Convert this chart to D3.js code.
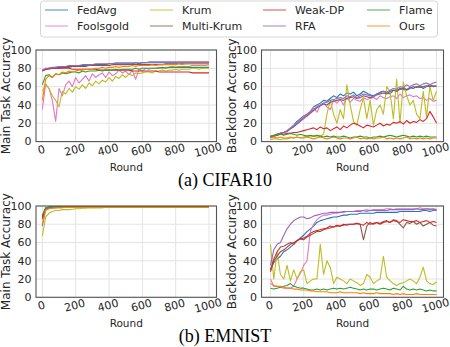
<!DOCTYPE html>
<html>
<head>
<meta charset="utf-8">
<script src="https://cdn.jsdelivr.net/npm/d3@7"></script>
<style>
  body { margin: 0; background: #fff; }
  svg { display: block; }
  .tick-label { font-family: "DejaVu Sans", sans-serif; font-size: 11px; fill: #262626; }
  .axis-label { font-family: "DejaVu Sans", sans-serif; font-size: 10.5px; fill: #262626; }
  .y-label { font-family: "DejaVu Sans", sans-serif; font-size: 12px; fill: #262626; }
  .caption { font-family: "Liberation Serif", "Times New Roman", serif; font-size: 18px; fill: #000; }
  .legend-text { font-family: "DejaVu Sans", sans-serif; font-size: 11px; fill: #262626; }
</style>
</head>
<body>
<svg id="chart" width="450" height="347"></svg>
<script>
// method names and colours, in legend order
const methods = ["FedAvg", "Foolsgold", "Krum", "Multi-Krum", "Weak-DP", "RFA", "Flame", "Ours"];
const colors = ["#1f77b4", "#e377c2", "#bcbd22", "#8c564b", "#d62728", "#9467bd", "#2ca02c", "#ff7f0e"];

// rounds sampled every 20
const rounds = d3.range(0, 1001, 20);
const yTicks = [0, 20, 40, 60, 80, 100];
const xTicks = [0, 200, 400, 600, 800, 1000];

// CIFAR10 main task accuracy
const cifarMain = {
  "FedAvg":     [78,79,80,80,81,81,82,82,82,82,83,83,83,83,84,84,84,84,84,84,85,85,85,85,85,85,85,85,86,85,86,86,86,86,86,86,86,86,86,86,86,86,86,86,86,86,86,86,86,86,86],
  "Foolsgold":  [35,63,58,45,22,58,50,62,66,60,70,64,68,72,66,74,70,73,75,70,76,72,74,78,75,77,73,78,68,79,77,80,79,80,80,81,80,81,81,82,81,82,82,82,82,83,83,83,83,83,84],
  "Krum":       [55,62,58,50,45,38,55,52,58,54,60,57,62,58,64,61,66,63,67,65,70,66,71,69,73,70,74,72,75,74,75,76,76,75,77,77,78,77,78,78,79,78,79,79,79,80,80,79,80,80,80],
  "Multi-Krum": [77,79,79,80,80,80,81,81,81,82,82,82,82,82,83,83,83,83,83,83,83,84,84,84,84,84,84,84,84,84,84,84,84,84,84,84,84,85,85,85,85,85,85,85,85,85,85,85,85,85,85],
  "Weak-DP":    [77,79,80,80,80,80,80,80,80,79,79,79,79,79,79,79,79,78,78,78,78,78,78,78,78,78,78,77,77,77,77,77,77,77,77,76,76,76,76,76,76,76,76,76,76,75,75,75,75,75,75],
  "RFA":        [78,80,80,81,81,82,82,82,83,83,83,83,84,84,84,84,85,85,85,85,85,85,86,86,86,86,86,86,86,86,86,86,87,87,87,87,87,87,87,87,87,87,87,87,87,87,87,87,87,87,87],
  "Flame":      [62,72,73,70,74,73,75,74,75,76,76,75,77,76,77,77,77,78,77,78,78,78,79,78,79,79,79,79,80,79,80,80,80,80,80,80,81,80,81,81,81,81,81,81,81,81,81,81,81,81,81],
  "Ours":       [45,68,72,70,74,73,76,75,77,76,77,78,78,79,79,79,80,80,81,80,81,81,82,81,82,82,82,83,82,83,83,83,83,84,83,84,84,84,84,84,84,85,84,85,85,85,85,85,85,85,85]
};

// CIFAR10 backdoor accuracy
const cifarBackdoor = {
  "FedAvg":     [5,6,8,9,10,12,15,18,22,25,28,30,33,38,40,42,45,44,47,50,48,52,50,53,52,54,50,52,55,53,51,50,52,54,55,53,52,56,55,58,57,56,58,60,59,61,58,60,62,60,61],
  "Foolsgold":  [6,7,8,9,10,12,15,17,20,24,27,30,33,37,32,40,42,38,35,45,42,46,40,48,43,47,45,44,48,46,47,48,46,50,48,47,49,50,47,52,48,50,51,49,50,47,48,45,47,44,45],
  "Krum":       [2,3,3,2,3,3,4,4,5,4,5,6,5,6,5,6,8,30,45,30,20,35,25,62,40,22,18,35,48,25,45,18,35,40,30,60,55,25,68,20,65,50,40,45,30,25,55,27,60,45,55],
  "Multi-Krum": [5,6,8,9,10,11,14,16,19,22,25,28,31,34,37,39,41,40,43,44,45,46,45,47,48,49,47,48,50,49,48,49,51,52,53,52,55,56,55,57,58,57,59,58,60,59,60,61,60,61,60],
  "Weak-DP":    [5,6,7,8,8,9,9,10,10,11,12,13,14,15,13,16,14,15,12,14,16,13,17,15,18,20,19,17,15,18,17,16,18,20,17,19,18,21,20,22,19,23,20,22,21,24,22,25,33,27,20],
  "RFA":        [4,6,7,9,10,11,14,17,20,23,26,30,32,35,38,40,42,43,45,46,47,48,47,50,49,51,48,50,52,51,50,49,52,53,55,54,56,58,57,60,59,62,60,62,63,61,63,64,62,64,65],
  "Flame":      [6,7,7,8,7,8,9,8,7,8,7,6,7,6,7,6,5,6,5,6,5,5,6,5,4,5,5,6,5,5,4,5,5,6,5,6,7,6,5,6,7,6,5,6,5,6,5,6,5,5,5],
  "Ours":       [4,5,4,5,4,4,5,4,5,4,4,5,4,3,4,5,4,3,4,5,4,3,4,4,3,4,5,3,4,3,4,3,4,4,5,3,4,3,4,3,4,5,3,4,3,4,3,4,3,4,4]
};

// EMNIST main task accuracy
const emnistMain = {
  "FedAvg":     [88,98,98.5,99,99,99,99,99,99,99,99,99,99,99,99,99,99,99,99,99,99,99,99,99,99,99,99,99,99,99,99,99,99,99,99,99,99,99,99,99,99,99,99,99,99,99,99,99,99,99,99],
  "Foolsgold":  [85,96,97.5,98,98,98.5,98.5,98.5,98.5,98.5,98.5,98.5,98.5,99,99,99,99,99,99,99,99,99,99,99,99,99,99,99,99,99,99,99,99,99,99,99,99,99,99,99,99,99,99,99,99,99,99,99,99,99,99],
  "Krum":       [67,88,92,94,95,95,96,96,96,96.5,97,97,97.5,97.5,98,98,98,98,98,98.5,98.5,98.5,98.5,98.5,98.5,99,99,99,99,99,99,99,99,99,99,99,99,99,99,99,99,99,99,99,99,99,99,99,99,99,99],
  "Multi-Krum": [86,97,98.5,99,99,99,99,99,99,99,99,99,99,99,99,99,99,99,99,99,99,99,99,99,99,99,99,99,99,99,99,99,99,99,99,99,99,99,99,99,99,99,99,99,99,99,99,99,99,99,99],
  "Weak-DP":    [88,97,98,98,98.5,98.5,98.5,98.5,98.5,98.5,98.5,98.5,98.5,98.5,98.5,98.5,98.5,98.5,98.5,98.5,98.5,98.5,98.5,98.5,98.5,98.5,98.5,98.5,98.5,98.5,98.5,98.5,98.5,98.5,98.5,98.5,98.5,98.5,98.5,98.5,98.5,98.5,98.5,98.5,98.5,98.5,98.5,98.5,98.5,98.5,98.5],
  "RFA":        [78,97,99,99,99,99,99,99,99,99,99,99,99,99,99,99,99,99,99,99,99,99,99,99,99,99,99,99,99,99,99,99,99,99,99,99,99,99,99,99,99,99,99,99,99,99,99,99,99,99,99],
  "Flame":      [90,98,99,99,99,99,99,99,99,99,99,99,99,99,99,99,99,99,99,99,99,99,99,99,99,99,99,99,99,99,99,99,99,99,99,99,99,99,99,99,99,99,99,99,99,99,99,99,99,99,99],
  "Ours":       [80,95,97,97.5,98,98,98,98.5,98.5,98.5,98.5,98.5,98.5,98.5,98.5,98.5,98.5,98.5,98.5,98.5,98.5,98.5,98.5,98.5,98.5,98.5,98.5,98.5,98.5,98.5,98.5,98.5,98.5,98.5,98.5,98.5,98.5,98.5,98.5,98.5,98.5,98.5,98.5,98.5,98.5,98.5,98.5,98.5,98.5,98.5,98.5]
};

// EMNIST backdoor accuracy
const emnistBackdoor = {
  "FedAvg":     [30,38,42,45,50,52,55,58,62,65,68,72,75,78,82,84,85,86,87,88,88,89,90,90,91,91,91,92,92,92,92,92,93,93,93,93,93,93,93,94,94,94,94,94,94,94,95,95,94,95,95],
  "Foolsgold":  [20,12,12,11,10,10,10,12,20,26,35,40,72,80,85,88,90,90,91,92,92,93,93,94,94,94,95,95,95,96,95,96,96,96,96,97,97,96,97,97,97,97,97,97,97,98,97,97,97,96,96],
  "Krum":       [58,20,50,25,20,35,18,30,20,28,30,15,18,20,20,58,25,40,33,15,22,20,18,15,20,18,16,13,15,25,22,15,18,20,45,22,18,15,13,15,16,18,20,18,15,22,33,18,15,14,17],
  "Multi-Krum": [30,42,50,55,56,58,60,58,62,64,63,66,68,70,72,72,74,75,76,77,78,78,79,80,80,80,81,80,63,78,82,80,82,81,83,84,82,85,84,80,76,82,81,83,80,82,78,80,82,79,78],
  "Weak-DP":    [28,40,45,50,52,55,58,60,62,64,65,67,70,72,73,74,75,76,78,77,79,78,80,79,80,80,81,80,79,82,80,81,82,80,82,83,82,84,83,82,85,84,83,83,84,82,83,84,82,83,82],
  "RFA":        [35,52,58,60,68,75,80,84,86,88,88,86,87,89,90,91,92,92,93,93,93,93,94,94,94,94,94,94,95,94,95,95,95,95,95,95,96,96,96,96,96,96,96,96,97,96,96,97,96,97,96],
  "Flame":      [10,9,10,11,12,13,15,12,11,10,10,9,8,8,9,8,9,8,9,10,9,10,9,10,11,10,9,8,9,8,9,9,8,9,10,9,8,10,9,8,12,9,8,9,8,9,8,7,8,7,7],
  "Ours":       [15,13,12,12,11,10,10,9,9,8,8,8,7,7,6,6,6,6,5,5,5,6,5,5,5,5,5,4,5,4,4,4,5,4,4,4,4,3,4,3,4,3,3,3,4,3,3,3,3,3,3]
};

const svg = d3.select("#chart");

function drawPanel(box, data, yLabel, xDomain, id) {
  const x = d3.scaleLinear().domain(xDomain).range([box.left, box.right]);
  const y = d3.scaleLinear().domain([0, 100]).range([box.bottom, box.top]);
  const g = svg.append("g");

  g.append("clipPath").attr("id", "clip-" + id)
    .append("rect")
    .attr("x", box.left).attr("y", box.top)
    .attr("width", box.right - box.left).attr("height", box.bottom - box.top);

  // grid
  g.selectAll(".gx").data(xTicks).enter().append("line")
    .attr("x1", d => x(d)).attr("x2", d => x(d))
    .attr("y1", box.top).attr("y2", box.bottom)
    .attr("stroke", "#e3e3e3").attr("stroke-width", 1);
  g.selectAll(".gy").data(yTicks).enter().append("line")
    .attr("x1", box.left).attr("x2", box.right)
    .attr("y1", d => y(d)).attr("y2", d => y(d))
    .attr("stroke", "#e3e3e3").attr("stroke-width", 1);

  // lines
  const line = d3.line().x((d, i) => x(rounds[i])).y(d => y(d));
  const lg = g.append("g").attr("clip-path", `url(#clip-${id})`);
  methods.forEach((m, k) => {
    lg.append("path")
      .attr("d", line(data[m]))
      .attr("fill", "none")
      .attr("stroke", colors[k])
      .attr("stroke-width", 1.1)
      .attr("stroke-linejoin", "round");
  });

  // frame
  g.append("rect")
    .attr("x", box.left).attr("y", box.top)
    .attr("width", box.right - box.left).attr("height", box.bottom - box.top)
    .attr("fill", "none").attr("stroke", "#555").attr("stroke-width", 1.1);

  // y tick labels
  g.selectAll(".yl").data(yTicks).enter().append("text")
    .attr("class", "tick-label")
    .attr("x", box.left - 4.5).attr("y", d => y(d))
    .attr("dy", "0.35em")
    .attr("text-anchor", "end")
    .text(d => d);

  // x tick labels, slightly rotated
  g.selectAll(".xl").data(xTicks).enter().append("text")
    .attr("class", "tick-label")
    .attr("transform", d => `translate(${x(d) - 1},${box.bottom + 8}) rotate(-15)`)
    .attr("dy", "0.35em")
    .attr("text-anchor", "middle")
    .text(d => d);

  // axis labels
  g.append("text").attr("class", "axis-label")
    .attr("x", (box.left + box.right) / 2).attr("y", box.bottom + 29.5)
    .attr("text-anchor", "middle").text("Round");
  g.append("text").attr("class", "y-label")
    .attr("transform", `translate(${box.left - 26},${(box.top + box.bottom) / 2}) rotate(-90)`)
    .attr("text-anchor", "middle").text(yLabel);
}

const leftX = [-38, 1045];
const rightX = [-54, 1042];
drawPanel({ left: 36, right: 216.5, top: 50, bottom: 141.6 }, cifarMain, "Main Task Accuracy", leftX, "a1");
drawPanel({ left: 261.5, right: 443.5, top: 50, bottom: 141.6 }, cifarBackdoor, "Backdoor Accuracy", rightX, "a2");
drawPanel({ left: 36, right: 216.5, top: 206, bottom: 297.3 }, emnistMain, "Main Task Accuracy", leftX, "b1");
drawPanel({ left: 261.5, right: 443.5, top: 206, bottom: 297.3 }, emnistBackdoor, "Backdoor Accuracy", rightX, "b2");

// captions
svg.append("text").attr("class", "caption").attr("x", 225).attr("y", 186).attr("text-anchor", "middle").text("(a) CIFAR10");
svg.append("text").attr("class", "caption").attr("x", 225).attr("y", 342).attr("text-anchor", "middle").text("(b) EMNIST");

// legend
const legend = svg.append("g");
legend.append("rect")
  .attr("x", 40.5).attr("y", 1).attr("width", 397).attr("height", 36).attr("rx", 3)
  .attr("fill", "#fff").attr("stroke", "#d5d5d5").attr("stroke-width", 1);
const colX = [45, 150, 263, 367];
const rowY = [10, 26];
methods.forEach((m, k) => {
  const cx = colX[Math.floor(k / 2)];
  const cy = rowY[k % 2];
  legend.append("line")
    .attr("x1", cx).attr("x2", cx + 23).attr("y1", cy).attr("y2", cy)
    .attr("stroke", colors[k]).attr("stroke-width", 1.5).attr("stroke-opacity", 0.55);
  legend.append("text").attr("class", "legend-text")
    .attr("x", cx + 32).attr("y", cy).attr("dy", "0.35em").text(m);
});
</script>
</body>
</html>
